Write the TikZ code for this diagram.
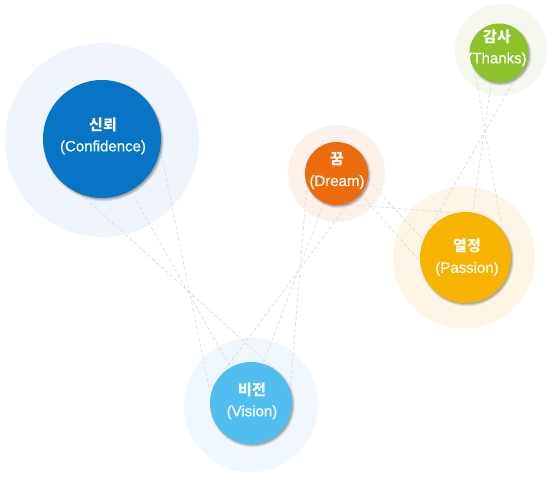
\documentclass[tikz,border=0pt]{standalone}
\usepackage{fontspec}
\setmainfont{Liberation Sans}[FakeBold=0.4]
\newfontfamily\kr{Noto Sans CJK KR}
\definecolor{cConf}{HTML}{0874C6}
\definecolor{hConf}{HTML}{F0F5FB}
\definecolor{cDream}{HTML}{EC6B0C}
\definecolor{hDream}{HTML}{FCF2EA}
\definecolor{cPass}{HTML}{F6B300}
\definecolor{hPass}{HTML}{FDF5E5}
\definecolor{cVis}{HTML}{50BFEF}
\definecolor{hVis}{HTML}{F0F8FE}
\definecolor{cThx}{HTML}{8CC22A}
\definecolor{hThx}{HTML}{F5F8EE}
\definecolor{cLine}{HTML}{DCDCDC}
\tikzset{
  halo/.style={circle, draw=none, inner sep=0pt},
  geom/.style={circle, inner sep=0pt},
  shadowc/.style={circle, draw=none, inner sep=0pt, fill=black, xshift=1.5pt, yshift=-1.8pt},
  bubble/.style={circle, draw=none, inner sep=0pt},
  lbl/.style={text=white, align=center, font=\fontsize{15}{21}\selectfont, inner sep=0pt},
  link/.style={draw=cLine, line width=0.7pt, dash pattern=on 3.5pt off 2.5pt}
}
\begin{document}
\begin{tikzpicture}[x=1pt,y=-1pt]
\useasboundingbox (0,0) rectangle (556,477);
% halos
\node[halo, fill=hConf, minimum size=194pt] (confh) at (102,140) {};
\node[halo, fill=hDream, minimum size=97pt] (dreamh) at (336.5,173.5) {};
\node[halo, fill=hPass, minimum size=142pt] (passh) at (464,257.5) {};
\node[halo, fill=hVis, minimum size=134pt] (vish) at (251,405) {};
\node[halo, fill=hThx, minimum size=92pt] (thxh) at (501,50) {};
% centres
\path (102,139) coordinate (confc);
\path (336.5,173.5) coordinate (dreamc);
\path (465.5,257.5) coordinate (passc);
\path (251,403) coordinate (visc);
\path (499,53) coordinate (thxc);
% geometry nodes for anchors
\node[geom, minimum size=118pt] (confg) at (confc) {};
\node[geom, minimum size=63pt] (dreamg) at (dreamc) {};
\node[geom, minimum size=91pt] (passg) at (passc) {};
\node[geom, minimum size=82pt] (visg) at (visc) {};
\node[geom, minimum size=59pt] (thxg) at (thxc) {};
% links
\draw[link] (confg.249) -- (visg.52);
\draw[link] (confg.299) -- (visg.120);
\draw[link] (confg.350) -- (visg.169);
\draw[link] (dreamg.201) -- (visg.18);
\draw[link] (dreamg.247) -- (visg.73);
\draw[link] (dreamg.293) -- (visg.136);
\draw[link] (dreamg.349) -- (passg.157);
\draw[link] (dreamg.284) -- (passg.103);
\draw[link] (dreamg.320) -- (passg.185);
\draw[link] (thxg.215) -- (passg.37);
\draw[link] (thxg.255) -- (passg.81);
\draw[link] (thxg.304) -- (passg.155);
% shadows
\foreach \c/\s in {confc/118, dreamc/63, passc/91, visc/82, thxc/59}{
  \node[shadowc, opacity=0.07, minimum size=\s pt+3pt] at (\c) {};
  \node[shadowc, opacity=0.12, minimum size=\s pt+1pt] at (\c) {};
  \node[shadowc, opacity=0.15, minimum size=\s pt-1pt] at (\c) {};
}
% bubbles
\node[bubble, fill=cConf, minimum size=118pt] (conf) at (confc) {};
\node[bubble, fill=cDream, minimum size=63pt] (dream) at (dreamc) {};
\node[bubble, fill=cPass, minimum size=91pt] (pass) at (passc) {};
\node[bubble, fill=cVis, minimum size=82pt] (vis) at (visc) {};
\node[bubble, fill=cThx, minimum size=59pt] (thx) at (thxc) {};
% labels
\node[lbl] (confl) at (103,136) {{\kr\bfseries 신뢰}\\(Confidence)};
\node[lbl] (dreaml) at (337,171) {{\kr\bfseries 꿈}\\(Dream)};
\node[lbl] (passl) at (467,257.5) {{\kr\bfseries 열정}\\(Passion)};
\node[lbl] (visl) at (252,401) {{\kr\bfseries 비전}\\(Vision)};
\node[lbl] (thxl) at (497,48) {{\kr\bfseries 감사}\\(Thanks)};
\end{tikzpicture}
\end{document}
